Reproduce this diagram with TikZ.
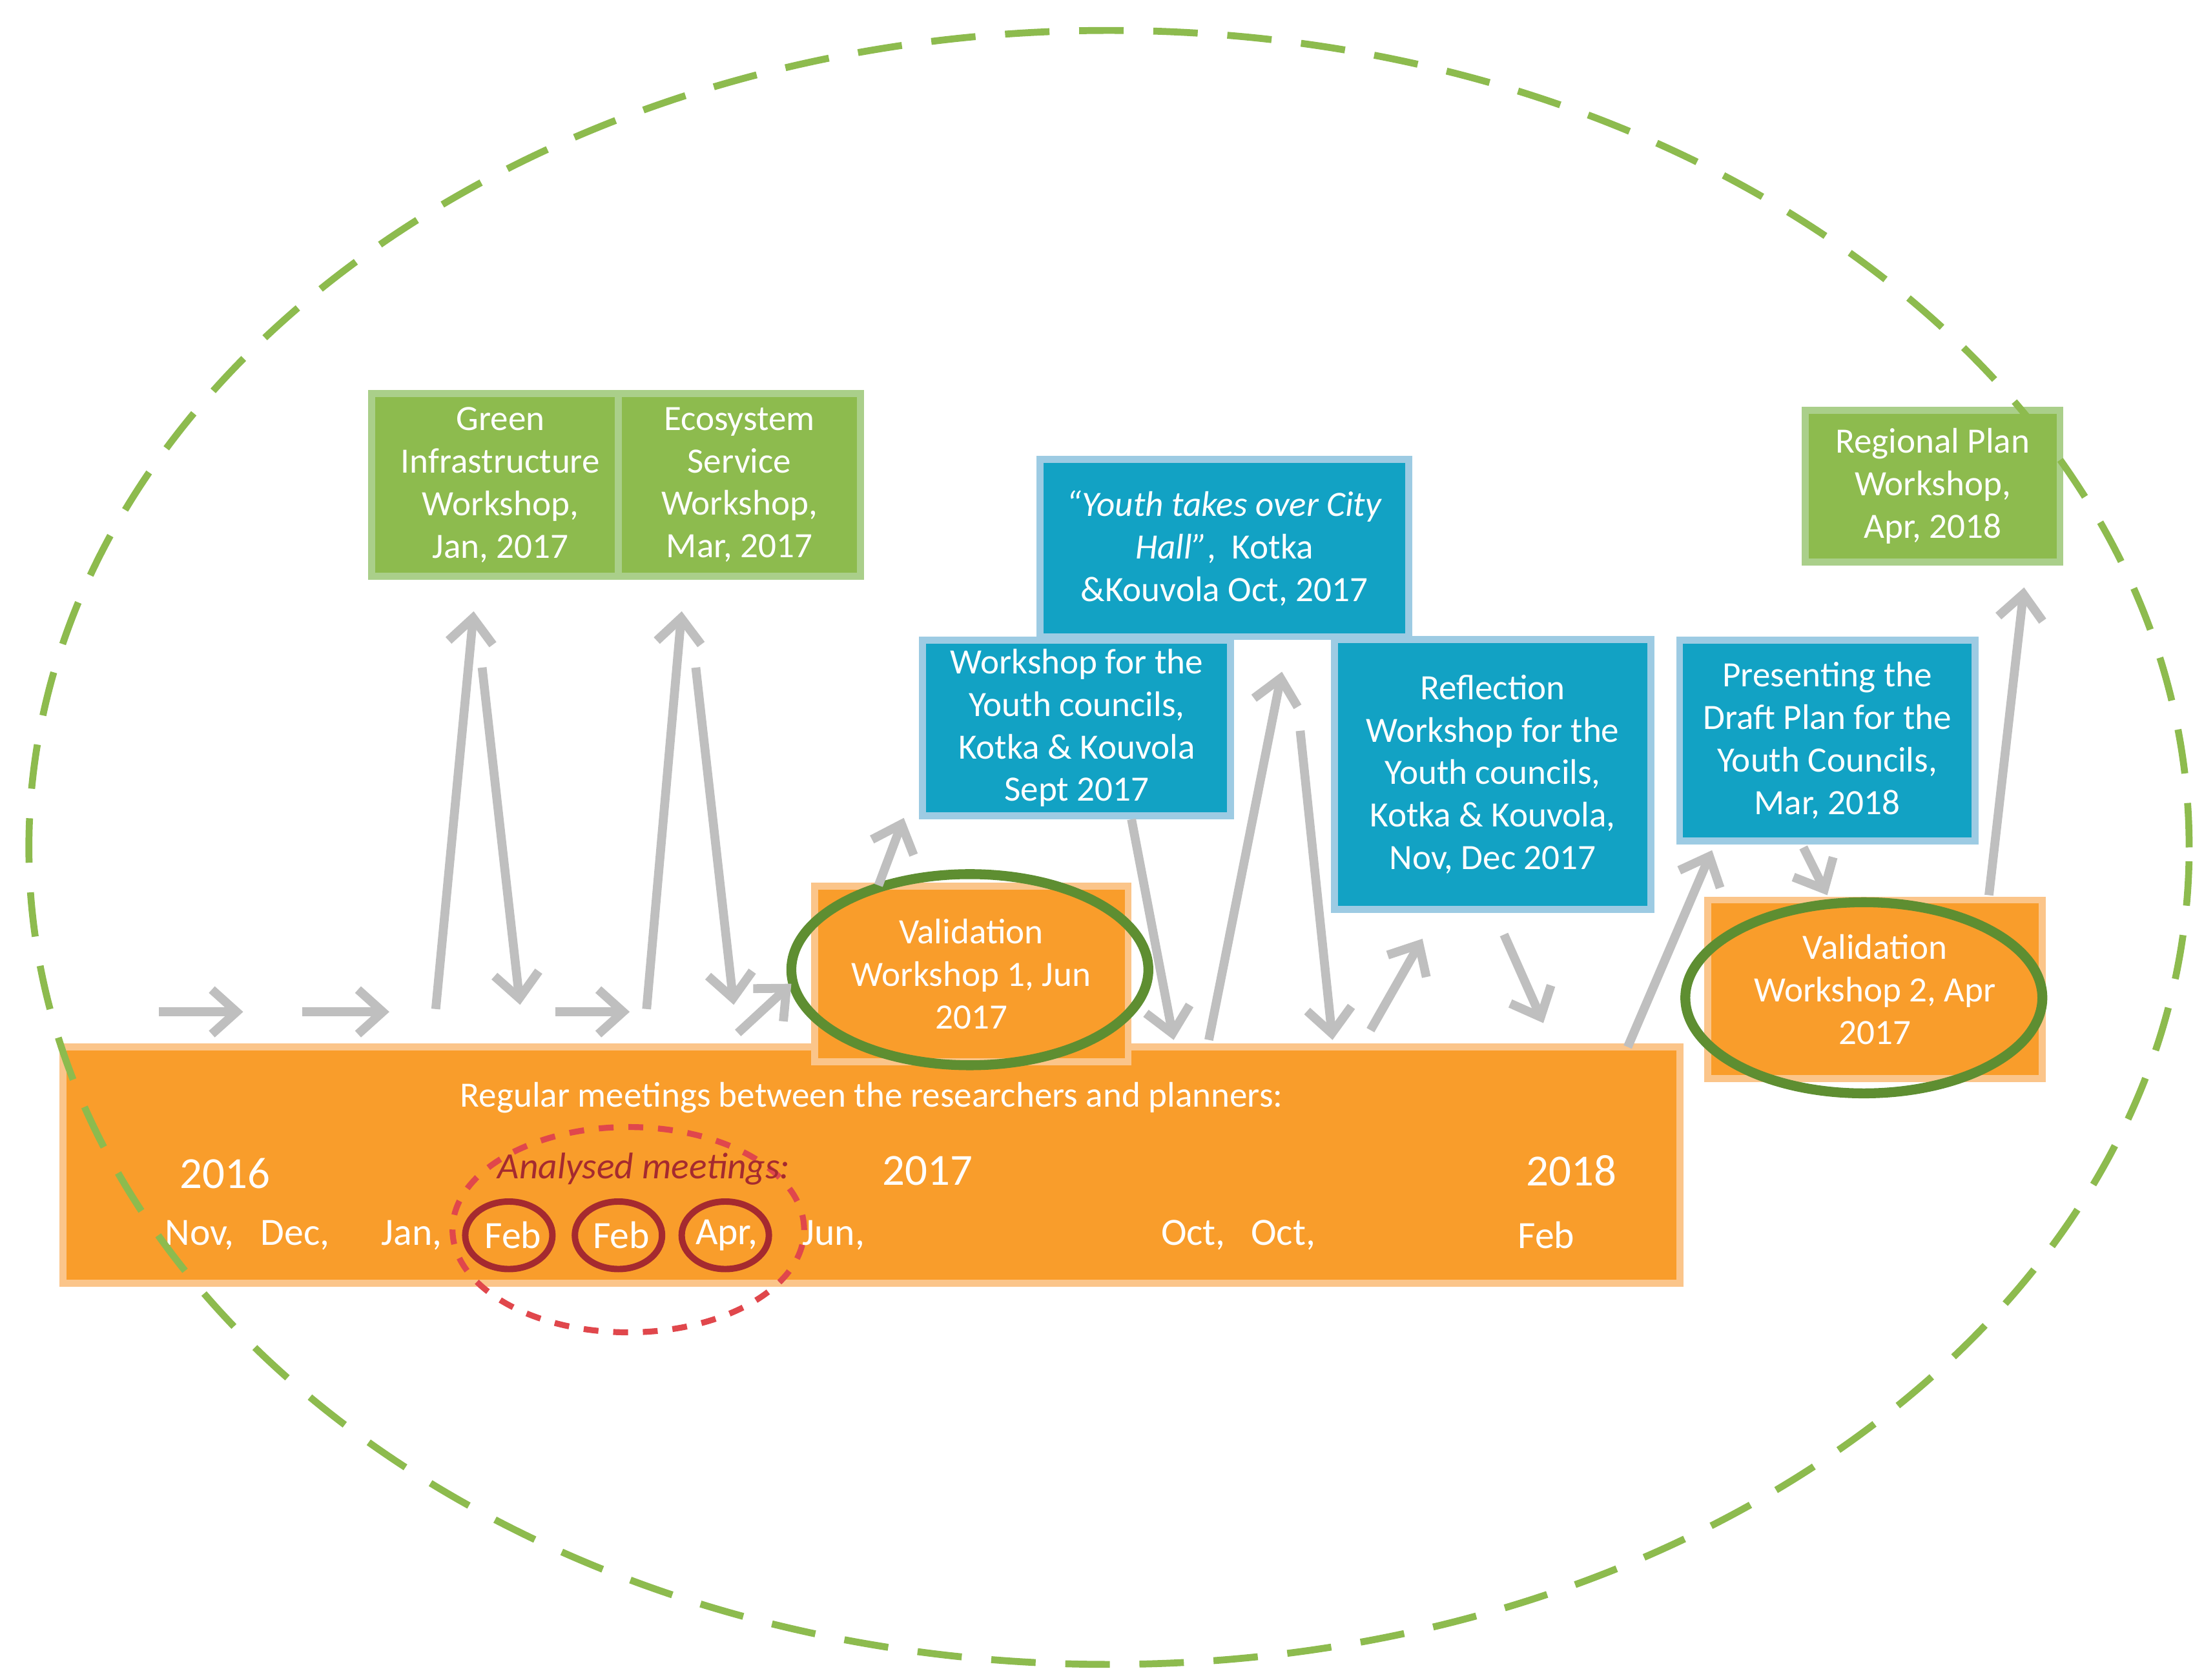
\documentclass[tikz,border=0pt]{standalone}
\usepackage{fontspec}
\setmainfont{Carlito}
\usetikzlibrary{arrows.meta,shapes.geometric}
\definecolor{gfill}{HTML}{8DBB4E}\definecolor{gline}{HTML}{AACF8A}
\definecolor{bfill}{HTML}{12A2C4}\definecolor{bline}{HTML}{9DCBE3}
\definecolor{ofill}{HTML}{F99D2B}\definecolor{oline}{HTML}{FBC58A}
\definecolor{arr}{HTML}{BFBFBF}\definecolor{vgreen}{HTML}{5E8E31}
\definecolor{dred}{HTML}{A52A2F}\definecolor{rdash}{HTML}{E0474C}
\begin{document}
\begin{tikzpicture}[x=0.01cm,y=-0.01cm,
 box/.style={draw, line width=1.4pt, text=white, align=center, inner sep=0pt, font=\fontsize{7.2}{8.6}\selectfont},
 gb/.style={box, fill=gfill, draw=gline},
 bb/.style={box, fill=bfill, draw=bline},
 ob/.style={box, fill=ofill, draw=oline},
 ar/.style={draw=arr, line width=1.8pt, -{Straight Barb[length=5pt,width=9pt,line width=1.8pt]}},
 wt/.style={text=white, inner sep=0pt, font=\fontsize{7.2}{8.6}\selectfont},
 yt/.style={text=white, inner sep=0pt, font=\fontsize{9}{10}\selectfont},
 mc/.style={draw=dred, line width=1.3pt, ellipse, minimum width=0.62cm, minimum height=0.48cm, inner sep=0pt},
 vg/.style={draw=vgreen, line width=2pt}]
\useasboundingbox (0,0) rectangle (1568,1195);
% big orange bar
\node[ob, minimum width=11.5cm, minimum height=1.68cm] (bar) at (620,829) {};
\node[wt] (reg) at (620,781) {Regular meetings between the researchers and planners:};
\node[yt] (y16) at (160,835) {2016};
\node[yt] (y17) at (660,833) {2017};
\node[yt] (y18) at (1118,833) {2018};
\foreach \n/\x/\t in {m1/142/{Nov,},m2/210/{Dec,},m3/293/{Jan,},m4/365/{Feb},m5/442/{Feb},m6/517/{Apr,},m7/593/{Jun,},m8/849/{Oct,},m9/913/{Oct,},m10/1100/{Feb}}
  \node[yt, font=\fontsize{7.8}{9}\selectfont] (\n) at (\x,879) {\t};
\node[mc] (c1) at (362,879) {};
\node[mc] (c2) at (440,879) {};
\node[mc] (c3) at (516,879) {};
\node[draw=rdash, dashed, line width=1.2pt, ellipse, minimum width=2.5cm, minimum height=1.46cm] (an) at (447,875) {};
\node[text=dred, inner sep=0pt, font=\itshape\fontsize{7.5}{9}\selectfont] (anl) at (458,832) {Analysed meetings:};
% green boxes
\node[gb, minimum width=1.83cm, minimum height=1.3cm] (gi) at (356,345) {Green\\Infrastructure\\Workshop,\\Jan, 2017};
\node[gb, minimum width=1.72cm, minimum height=1.3cm] (es) at (526,345) {Ecosystem\\Service\\Workshop,\\Mar, 2017};
\node[gb, minimum width=1.81cm, minimum height=1.08cm] (rp) at (1375,346) {Regional Plan\\Workshop,\\Apr, 2018};
% blue boxes
\node[bb, minimum width=2.62cm, minimum height=1.26cm] (yt) at (871,390) {\textit{“Youth takes over City}\\\textit{Hall”},\ \ Kotka\\\&Kouvola Oct, 2017};
\node[bb, minimum width=2.19cm, minimum height=1.25cm] (wy) at (766,518) {Workshop for the\\Youth councils,\\Kotka \& Kouvola\\Sept 2017};
\node[bb, minimum width=2.25cm, minimum height=1.92cm] (rf) at (1062,551) {Reflection\\Workshop for the\\Youth councils,\\Kotka \& Kouvola,\\Nov, Dec 2017};
\node[bb, minimum width=2.1cm, minimum height=1.43cm] (pd) at (1300,527) {Presenting the\\Draft Plan for the\\Youth Councils,\\Mar, 2018};
% orange validation boxes
\node[ob, minimum width=2.23cm, minimum height=1.25cm] (v1) at (691,693) {Validation\\Workshop 1, Jun\\2017};
\node[ob, minimum width=2.38cm, minimum height=1.27cm] (v2) at (1334,704) {Validation\\Workshop 2, Apr\\2017};
\draw[vg] (690,690) ellipse (127 and 68);
\draw[vg] (1326,710) ellipse (127 and 68);
% arrows
\foreach \i/\ax/\ay/\bx/\by in {1/113/720/173/720, 2/215/720/277/720, 3/395/720/448/720, 4/310/718/337/435, 5/343/475/370/715, 6/460/718/485/435, 7/495/475/522/715, 8/525/735/563/700, 9/625/630/643/582, 10/805/583/835/740, 11/860/740/912/478, 12/925/520/948/740, 13/975/733/1012/668, 14/1070/665/1098/728, 15/1158/745/1218/605, 16/1283/603/1300/637, 17/1415/637/1440/418}
 {\coordinate (s\i) at (\ax,\ay); \coordinate (e\i) at (\bx,\by); \draw[ar] (s\i) -- (e\i);}
% big dashed ellipse
\node[draw=gfill, dash pattern=on 9pt off 6pt, line width=1.4pt, ellipse, minimum width=15.36cm, minimum height=11.62cm] (big) at (789,603) {};
\end{tikzpicture}
\end{document}
